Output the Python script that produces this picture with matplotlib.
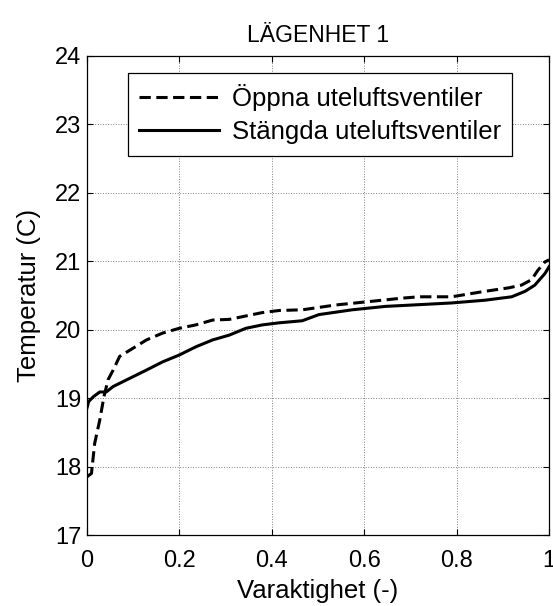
import matplotlib
matplotlib.use("Agg")
import matplotlib.pyplot as plt

plt.rcParams['font.family'] = ['Liberation Sans', 'DejaVu Sans']

# Varaktighetskurvor, lägenhet 1
x_oppna = [0.0, 0.010, 0.017, 0.028, 0.037, 0.046, 0.057, 0.071, 0.093, 0.129,
           0.164, 0.200, 0.236, 0.272, 0.308, 0.344, 0.380, 0.416, 0.466, 0.538,
           0.610, 0.682, 0.718, 0.789, 0.861, 0.912, 0.940, 0.962, 0.976, 0.991, 1.0]
y_oppna = [17.85, 17.90, 18.34, 18.68, 19.02, 19.27, 19.41, 19.61, 19.70, 19.85,
           19.95, 20.02, 20.07, 20.14, 20.15, 20.20, 20.25, 20.28, 20.29, 20.36,
           20.41, 20.46, 20.48, 20.48, 20.56, 20.61, 20.65, 20.73, 20.87, 20.99, 21.02]

x_stangda = [0.0, 0.004, 0.014, 0.028, 0.042, 0.057, 0.093, 0.129, 0.164, 0.200,
             0.236, 0.272, 0.308, 0.344, 0.380, 0.416, 0.466, 0.502, 0.574, 0.646,
             0.704, 0.789, 0.861, 0.919, 0.948, 0.969, 0.991, 1.0]
y_stangda = [18.85, 18.95, 19.02, 19.09, 19.09, 19.17, 19.29, 19.41, 19.53, 19.63,
             19.75, 19.85, 19.92, 20.02, 20.07, 20.10, 20.13, 20.22, 20.29, 20.34,
             20.36, 20.39, 20.43, 20.48, 20.56, 20.65, 20.82, 20.92]

xticks = [0, 0.2, 0.4, 0.6, 0.8, 1]
xticklabels = ['0', '0.2', '0.4', '0.6', '0.8', '1']
yticks = [17, 18, 19, 20, 21, 22, 23, 24]

fig = plt.figure(figsize=(5.53, 6.06), dpi=100)
ax = fig.add_axes([0.157, 0.117, 0.836, 0.791])

ax.plot(x_oppna, y_oppna, color='black', lw=2.2, linestyle=(0, (3.7, 1.8)),
        label='Öppna uteluftsventiler')
ax.plot(x_stangda, y_stangda, color='black', lw=2.2, linestyle='-',
        label='Stängda uteluftsventiler')

ax.set_xlim(0, 1)
ax.set_ylim(17, 24)
ax.set_xticks(xticks)
ax.set_xticklabels(xticklabels)
ax.set_yticks(yticks)
ax.tick_params(direction='in', length=4, width=0.8, top=True, right=True,
               labelsize=17)
ax.tick_params(axis='x', pad=11)
ax.tick_params(axis='y', pad=4)
ax.grid(True, linestyle=':', color='#808080', linewidth=0.7)
for s in ax.spines.values():
    s.set_linewidth(0.9)

ax.set_title('LÄGENHET 1', fontsize=16.5, pad=10)
ax.set_xlabel('Varaktighet (-)', fontsize=18.5, labelpad=5)
ax.set_ylabel('Temperatur (C)', fontsize=18.5, labelpad=10)

leg = ax.legend(loc='upper left', bbox_to_anchor=(0.088, 0.965), borderaxespad=0,
                fontsize=18.5, handlelength=3.1, labelspacing=0.35, fancybox=False,
                framealpha=1, edgecolor='black', borderpad=0.45, handletextpad=0.5)
leg.get_frame().set_linewidth(0.9)

fig.savefig('out.png', dpi=100)
